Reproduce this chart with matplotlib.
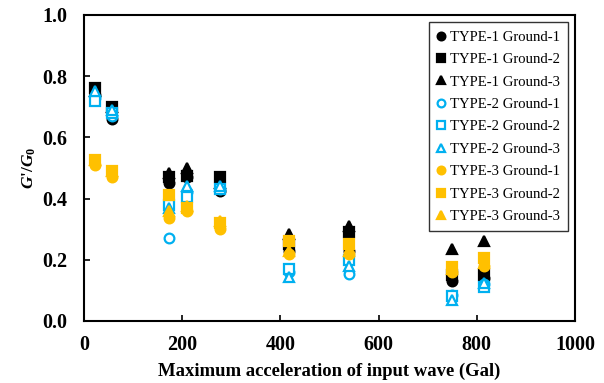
import matplotlib
matplotlib.use("Agg")
import matplotlib.pyplot as plt

plt.rcParams['font.family'] = ['Liberation Serif', 'DejaVu Serif']
plt.rcParams['mathtext.fontset'] = 'custom'
plt.rcParams['mathtext.it'] = 'Liberation Serif:italic:bold'
plt.rcParams['mathtext.rm'] = 'Liberation Serif:bold'

# Input wave peak accelerations (Gal)
accel = [22, 57, 173, 210, 277, 418, 540, 750, 815]

# G'/G0 for each model type and ground condition
type1_g1 = [0.74, 0.66, 0.45, 0.47, 0.425, 0.23, 0.23, 0.13, 0.14]
type1_g2 = [0.76, 0.70, 0.47, 0.475, 0.47, 0.25, 0.29, 0.15, 0.15]
type1_g3 = [0.75, 0.70, 0.485, 0.50, 0.45, 0.285, 0.31, 0.235, 0.26]
type2_g1 = [0.73, 0.67, 0.27, 0.42, 0.43, 0.16, 0.155, 0.085, 0.12]
type2_g2 = [0.72, 0.68, 0.38, 0.405, 0.43, 0.17, 0.20, 0.08, 0.11]
type2_g3 = [0.75, 0.69, 0.37, 0.44, 0.44, 0.145, 0.18, 0.07, 0.125]
type3_g1 = [0.51, 0.47, 0.335, 0.36, 0.30, 0.22, 0.22, 0.16, 0.18]
type3_g2 = [0.525, 0.49, 0.41, 0.37, 0.32, 0.26, 0.25, 0.175, 0.205]
type3_g3 = [0.525, 0.49, 0.36, 0.375, 0.325, 0.23, 0.23, 0.17, 0.19]

labels = ["TYPE-1 Ground-1", "TYPE-1 Ground-2", "TYPE-1 Ground-3",
          "TYPE-2 Ground-1", "TYPE-2 Ground-2", "TYPE-2 Ground-3",
          "TYPE-3 Ground-1", "TYPE-3 Ground-2", "TYPE-3 Ground-3"]

BLACK = "#000000"
BLUE = "#00B0F0"
ORANGE = "#FFC000"

series = [
    (type1_g1, "o", BLACK, True),
    (type1_g2, "s", BLACK, True),
    (type1_g3, "^", BLACK, True),
    (type2_g1, "o", BLUE, False),
    (type2_g2, "s", BLUE, False),
    (type2_g3, "^", BLUE, False),
    (type3_g1, "o", ORANGE, True),
    (type3_g2, "s", ORANGE, True),
    (type3_g3, "^", ORANGE, True),
]

fig = plt.figure(figsize=(6.04, 3.83), dpi=100)
ax = fig.add_axes([0.139, 0.162, 0.813, 0.799])

for (vals, mk, col, filled), lab in zip(series, labels):
    ax.plot(accel, vals, linestyle="none", marker=mk, markersize=7,
            markerfacecolor=col if filled else "white",
            markeredgecolor=col, markeredgewidth=1.6, label=lab)

ax.set_xlim(0, 1000)
ax.set_ylim(0.0, 1.0)
ax.set_xticks([0, 200, 400, 600, 800, 1000])
ax.set_yticks([0.0, 0.2, 0.4, 0.6, 0.8, 1.0])
ax.set_yticklabels([f"{v:.1f}" for v in ax.get_yticks()])
ax.tick_params(direction="in", length=4, width=1.2, labelsize=14.5)
ax.tick_params(axis="x", pad=10)
ax.tick_params(axis="y", pad=12)
for lab in ax.get_xticklabels() + ax.get_yticklabels():
    lab.set_fontweight("bold")
for sp in ax.spines.values():
    sp.set_linewidth(1.5)

ax.set_xlabel("Maximum acceleration of input wave (Gal)", fontsize=13.4,
              fontweight="bold", labelpad=6)
ax.set_ylabel(r"$G$'/$G_0$", fontsize=12.5, fontweight="bold", labelpad=3)

leg = ax.legend(loc="upper right", fontsize=10.6, frameon=True, fancybox=False,
                edgecolor="black", handlelength=0.6, handletextpad=0.25,
                borderpad=0.55, labelspacing=0.62, borderaxespad=0.5,
                markerscale=0.8)
leg.get_frame().set_linewidth(1.0)

fig.savefig("out.png", dpi=100)
